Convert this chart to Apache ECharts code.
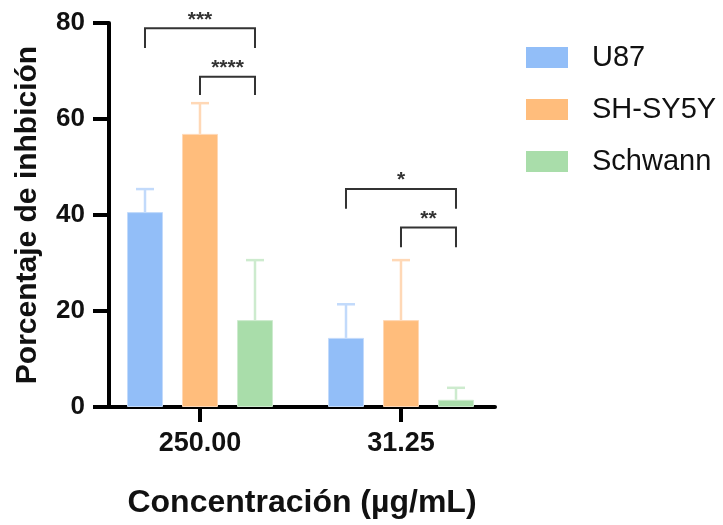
<!DOCTYPE html>
<html><head><meta charset="utf-8">
<script src="https://cdn.jsdelivr.net/npm/echarts@6/dist/echarts.min.js"></script>
<style>html,body{margin:0;padding:0;background:#fff}#c{width:723px;height:525px}</style>
</head><body><div id="c"></div>
<script>
// ---- data ----
const categories = ['250.00', '31.25'];
const seriesNames = ['U87', 'SH-SY5Y', 'Schwann'];
const u87 = [40.6, 14.4];
const u87Err = [4.8, 7.0];
const shsy5y = [56.9, 18.1];
const shsy5yErr = [6.4, 12.5];
const schwann = [18.1, 1.5];
const schwannErr = [12.5, 2.5];
const yTicks = [0, 20, 40, 60, 80];
// significance brackets
const bracketCat = [0, 0, 1, 1];
const bracketFrom = [0, 1, 0, 1];
const bracketTo = [2, 2, 2, 2];
const bracketTop = [78.9, 68.8, 45.4, 37.4];
const bracketLeg = [74.8, 65.0, 41.3, 33.3];
const bracketText = ['***', '****', '*', '**'];

// ---- style ----
const FONT = 'Liberation Sans, Arial, sans-serif';
const colors = ['#92BEF8', '#FFBD7C', '#A9DDAA'];
const errColors = ['#C2DAFB', '#FFD8B6', '#CDEBCE'];
const BAR_W = 36, BAR_GAP = 19;
const X_MIN = -0.4527, X_MAX = 1.4677;

const means = [u87, shsy5y, schwann];
const errs = [u87Err, shsy5yErr, schwannErr];

const series = [];
seriesNames.forEach((name, s) => {
  series.push({
    name, type: 'bar', barWidth: BAR_W, barGap: (BAR_GAP / BAR_W * 100) + '%',
    data: categories.map((c, i) => [i, means[s][i]]),
    itemStyle: { color: colors[s], borderColor: errColors[s], borderWidth: 1 },
    z: 2
  });
});
seriesNames.forEach((name, s) => {
  series.push({
    type: 'custom', z: 3, silent: true,
    data: categories.map((c, i) => [i, means[s][i], means[s][i] + errs[s][i]]),
    renderItem: (params, api) => {
      const off = (s - 1) * (BAR_W + BAR_GAP);
      const lo = api.coord([api.value(0), api.value(1)]);
      const hi = api.coord([api.value(0), api.value(2)]);
      const x = lo[0] + off;
      const st = { stroke: errColors[s], lineWidth: 2.5 };
      return { type: 'group', children: [
        { type: 'line', shape: { x1: x, y1: lo[1], x2: x, y2: hi[1] }, style: st },
        { type: 'line', shape: { x1: x - 9, y1: hi[1], x2: x + 9, y2: hi[1] }, style: st }
      ]};
    }
  });
});
series.push({
  type: 'custom', z: 4, silent: true,
  data: bracketCat.map((c, i) => [c, bracketFrom[i], bracketTo[i], bracketTop[i], bracketLeg[i], i]),
  renderItem: (params, api) => {
    const c = api.value(0);
    const top = api.coord([c, api.value(3)]);
    const leg = api.coord([c, api.value(4)]);
    const step = BAR_W + BAR_GAP;
    const x1 = top[0] + (api.value(1) - 1) * step;
    const x2 = top[0] + (api.value(2) - 1) * step;
    const st = { stroke: '#333', lineWidth: 2, fill: null };
    return { type: 'group', children: [
      { type: 'polyline', shape: { points: [[x1, leg[1]], [x1, top[1]], [x2, top[1]], [x2, leg[1]]] }, style: st },
      { type: 'text', x: (x1 + x2) / 2, y: top[1] + 2,
        style: { text: bracketText[api.value(5)], fill: '#333', font: 'bold 21px ' + FONT, align: 'center', verticalAlign: 'bottom' } }
    ]};
  }
});

const chart = echarts.init(document.getElementById('c'), null, { renderer: 'canvas' });
chart.setOption({
  animation: false,
  backgroundColor: '#fff',
  grid: { left: 109, top: 23, width: 386, bottom: 118 },
  legend: {
    data: seriesNames, orient: 'vertical', left: 521, top: 38,
    icon: 'rect', itemWidth: 42, itemHeight: 21, itemGap: 23,
    itemStyle: { borderWidth: 0 },
    textStyle: { fontFamily: FONT, fontSize: 29, color: '#111', lineHeight: 21, padding: [0, 0, 0, 19] }
  },
  xAxis: {
    type: 'value', min: X_MIN, max: X_MAX,
    axisLine: { show: true, onZero: false, lineStyle: { color: '#000', width: 4 } },
    axisTick: { show: true, customValues: [0, 1], length: 15, lineStyle: { color: '#000', width: 4 } },
    axisLabel: { customValues: [0, 1], formatter: v => categories[Math.round(v)] || '',
      fontFamily: FONT, fontSize: 27, fontWeight: 'bold', color: '#111', margin: 23 },
    splitLine: { show: false },
    name: 'Concentración (µg/mL)', nameLocation: 'middle', nameGap: 80,
    nameTextStyle: { fontFamily: FONT, fontSize: 32, fontWeight: 'bold', color: '#111' }
  },
  yAxis: {
    type: 'value', min: 0, max: 80, interval: 20,
    axisLine: { show: true, onZero: false, lineStyle: { color: '#000', width: 4 } },
    axisTick: { show: true, length: 16, lineStyle: { color: '#000', width: 4 } },
    axisLabel: { fontFamily: FONT, fontSize: 26, fontWeight: 'bold', color: '#111', margin: 24,
      formatter: v => (yTicks.indexOf(v) >= 0 ? String(v) : '') },
    splitLine: { show: false },
    name: 'Porcentaje de inhbición', nameLocation: 'middle', nameGap: 66, nameRotate: 90,
    nameTextStyle: { fontFamily: FONT, fontSize: 30, fontWeight: 'bold', color: '#111' }
  },
  series
});
</script></body></html>
